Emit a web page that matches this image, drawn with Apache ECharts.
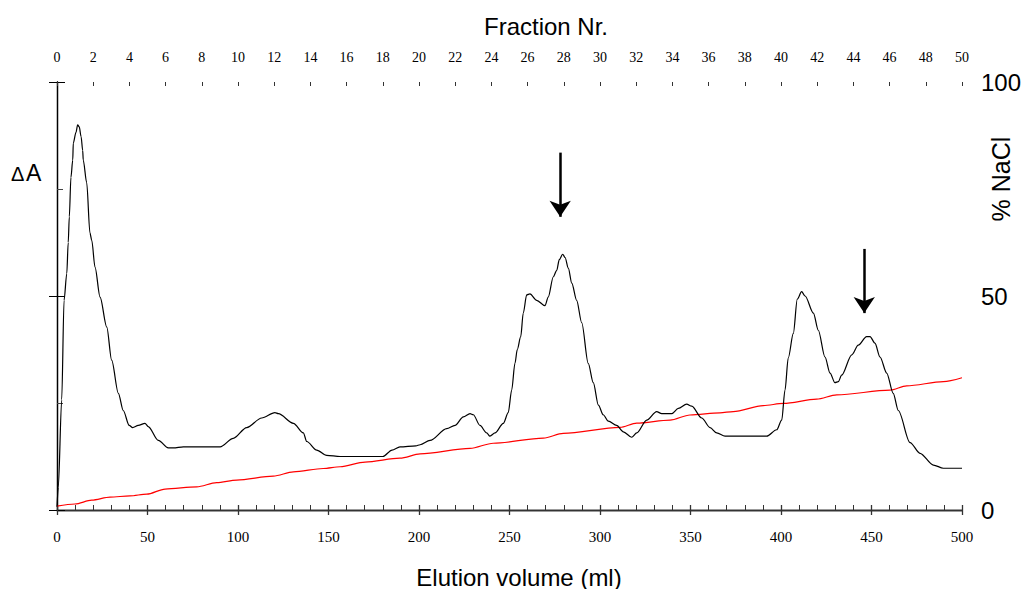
<!DOCTYPE html>
<html>
<head>
<meta charset="utf-8">
<script src="https://cdn.jsdelivr.net/npm/echarts@6/dist/echarts.min.js"></script>
<style>
  html, body { margin: 0; padding: 0; background: #fff; }
  #chart { width: 1025px; height: 589px; }
</style>
</head>
<body>
<div id="chart"></div>
<script>
// Absorbance trace (ΔA, arbitrary units) against elution volume (ml)
const absVolume = [0, 0.7, 2.6, 3.9, 5.4, 6.2, 6.8, 7.7, 8.7, 9.0, 10.5, 11.4, 12.3, 13.3, 14.2, 14.5, 16.4, 18.2, 19.2, 21.0,
  23.8, 27.5, 30.2, 33.9, 36.6, 39.9, 41.8, 44.9, 48.6, 50.4, 56.0, 61.5, 64.3, 69.8, 90.1, 97.4, 104.8, 113.1, 120.4, 122.3,
  130.6, 136.1, 138.0, 143.5, 149.0, 156.4, 180.1, 185.1, 189.5, 198.3,
  200.6, 206.1, 215.3, 219.9, 224.5, 228.2, 230.0, 233.7, 237.4, 239.2, 242.0, 246.6, 249.3, 251.2, 253.0, 254.3, 256.2,
  257.6, 259.5, 261.3, 265.0, 269.6, 271.4, 274.2, 276.1, 277.5, 279.4, 280.7, 282.5, 284.4, 287.1, 289.9, 293.5, 296.3,
  299.1, 301.8, 304.6, 309.2, 312.9, 317.5, 320.3, 325.8, 331.3, 334.1, 339.6, 343.3, 347.9, 350.7, 356.2, 360.8, 364.5,
  369.1, 392.1, 397.6, 400.4, 402.2, 404.0, 406.8, 409.0, 411.4, 413.3, 417.9, 420.6, 424.3, 427.1, 429.8, 431.7, 433.5,
  439.1, 442.7, 447.3, 449.2, 451.9, 454.7, 458.4, 462.0, 464.8, 471.3, 476.8, 484.2, 489.7, 500];
const absValue = [0.03, 0.21, 1.03, 1.96, 2.21, 2.50, 2.74, 3.11, 3.27, 3.43, 3.53, 3.60, 3.58, 3.49, 3.36, 3.27, 3.06, 2.59, 2.52, 2.27,
  1.99, 1.71, 1.40, 1.09, 0.93, 0.79, 0.77, 0.79, 0.81, 0.78, 0.65, 0.58, 0.58, 0.59, 0.59, 0.67, 0.77, 0.86, 0.91, 0.90,
  0.81, 0.72, 0.64, 0.56, 0.51, 0.50, 0.50, 0.56, 0.59, 0.60,
  0.61, 0.65, 0.76, 0.79, 0.87, 0.90, 0.89, 0.79, 0.72, 0.69, 0.72, 0.81, 0.91, 1.12, 1.37, 1.50, 1.62,
  1.84, 2.01, 2.02, 1.96, 1.91, 1.99, 2.18, 2.24, 2.34, 2.39, 2.36, 2.26, 2.12, 1.96, 1.75, 1.37, 1.19,
  0.98, 0.89, 0.83, 0.79, 0.73, 0.68, 0.72, 0.84, 0.92, 0.90, 0.90, 0.95, 0.99, 0.97, 0.86, 0.77, 0.72,
  0.69, 0.69, 0.75, 0.84, 1.12, 1.42, 1.65, 1.97, 2.04, 2.00, 1.84, 1.68, 1.43, 1.28, 1.19, 1.20, 1.26,
  1.45, 1.54, 1.62, 1.62, 1.56, 1.43, 1.28, 1.09, 0.93, 0.63, 0.53, 0.42, 0.39, 0.39];

// Salt gradient (% NaCl) against elution volume (ml)
const naclVolume = [0, 9.9, 19.2, 29.3, 40.3, 49.6, 59.7, 77.2, 88.2, 99.3, 119.5, 130.6, 147.1, 156.4, 170.2, 189.5, 200.6,
  228.2, 241, 268.7, 279.7, 311, 320.3, 338.7, 349.7, 366.3, 373.6, 390.2, 401.3, 419.7, 430.8, 460.2, 469.4, 489.7, 500];
const naclValue = [0.9, 1.4, 2.3, 3.0, 3.3, 3.7, 4.9, 5.4, 6.4, 7.0, 7.9, 8.9, 9.7, 10.1, 11.2, 12.1, 13.1,
  14.4, 15.6, 16.8, 17.9, 19.3, 20.3, 21.0, 22.2, 22.7, 23.0, 24.4, 24.9, 25.9, 26.9, 28.0, 29.0, 30.0, 30.9];

// Arrows marking the fractions of interest (volume, tail and tip in ΔA units)
const arrowVolume = [278, 446];
const arrowFrom = [3.34, 2.44];
const arrowTo = [2.74, 1.84];

// Axis ranges and tick spacing
const volumeRange = [0, 500];
const volumeStep = 50;
const fractionRange = [0, 50];
const fractionStep = 2;
const absRange = [0, 4];
const naclRange = [0, 100];
const naclStep = 50;

const SANS = '"Liberation Sans", Arial, sans-serif';
const SERIF = '"Liberation Serif", "Times New Roman", serif';
const INK = '#000';

const chart = echarts.init(document.getElementById('chart'), null, { renderer: 'svg' });

const hiddenLabel = { show: false };
const noSplit = { show: false };

chart.setOption({
  animation: false,
  backgroundColor: '#fff',
  grid: { left: 57, right: 63, top: 82, bottom: 79, containLabel: false, outerBoundsMode: 'none' },
  xAxis: [
    { // elution volume, labels and outward half of major ticks
      type: 'value', position: 'bottom', min: volumeRange[0], max: volumeRange[1], interval: volumeStep,
      axisLine: { show: true, lineStyle: { color: INK, width: 1.3 } },
      axisTick: { show: true, inside: false, length: 5, lineStyle: { color: '#333', width: 1.3 } },
      axisLabel: { show: true, margin: 19, fontFamily: SERIF, fontSize: 15, color: INK, showMinLabel: true, showMaxLabel: true },
      splitLine: noSplit
    },
    { // fraction number on top
      type: 'value', position: 'top', min: fractionRange[0], max: fractionRange[1], interval: fractionStep,
      axisLine: { show: true, lineStyle: { color: '#333', width: 1.3 } },
      axisTick: { show: true, inside: false, length: 4, lineStyle: { color: '#333', width: 1 } },
      axisLabel: { show: true, margin: 18, fontFamily: SERIF, fontSize: 14, color: INK, showMinLabel: true, showMaxLabel: true },
      splitLine: noSplit
    },
    { // inward half of bottom ticks plus 10 ml minor ticks
      type: 'value', position: 'bottom', min: volumeRange[0], max: volumeRange[1], interval: volumeStep,
      axisLine: { show: false },
      axisTick: { show: true, inside: true, length: 5, lineStyle: { color: '#333', width: 1.3 } },
      minorTick: { show: true, splitNumber: 5, length: 5, lineStyle: { color: '#333', width: 1 } },
      axisLabel: hiddenLabel, splitLine: noSplit, minorSplitLine: { show: false }
    },
    { // inward half of top ticks
      type: 'value', position: 'top', min: fractionRange[0], max: fractionRange[1], interval: fractionStep,
      axisLine: { show: false },
      axisTick: { show: true, inside: true, length: 4, lineStyle: { color: '#333', width: 1 } },
      axisLabel: hiddenLabel, splitLine: noSplit
    }
  ],
  yAxis: [
    { // ΔA, unlabelled
      type: 'value', position: 'left', min: absRange[0], max: absRange[1], interval: 1,
      axisLine: { show: true, lineStyle: { color: '#444', width: 1.3 } },
      axisTick: { show: true, inside: true, length: 6, lineStyle: { color: '#444', width: 1 } },
      axisLabel: hiddenLabel, splitLine: noSplit
    },
    { // % NaCl
      type: 'value', position: 'right', min: naclRange[0], max: naclRange[1], interval: naclStep,
      axisLine: { show: true, lineStyle: { color: INK, width: 1.3 } },
      axisTick: { show: true, inside: false, length: 8, lineStyle: { color: INK, width: 1 } },
      axisLabel: { show: true, margin: 19, fontFamily: SANS, fontSize: 24, color: INK },
      splitLine: noSplit
    },
    { // inward half of % NaCl ticks
      type: 'value', position: 'right', min: naclRange[0], max: naclRange[1], interval: naclStep,
      axisLine: { show: false },
      axisTick: { show: true, inside: true, length: 8, lineStyle: { color: INK, width: 1 } },
      axisLabel: hiddenLabel, splitLine: noSplit
    }
  ],
  series: [
    {
      name: '% NaCl', type: 'line', xAxisIndex: 0, yAxisIndex: 1,
      data: naclVolume.map((v, i) => [v, naclValue[i]]),
      showSymbol: false, smooth: 0.3, smoothMonotone: 'x',
      lineStyle: { color: '#ff0000', width: 1.2 }, z: 2, silent: true
    },
    {
      name: 'ΔA', type: 'line', xAxisIndex: 0, yAxisIndex: 0,
      data: absVolume.map((v, i) => [v, absValue[i]]),
      showSymbol: false, smooth: 0.3, smoothMonotone: 'x',
      lineStyle: { color: '#000', width: 1.2 }, z: 3, silent: true,
      markLine: {
        silent: true, animation: false,
        symbol: ['none', 'arrow'], symbolSize: 16,
        lineStyle: { color: '#000', width: 2.5, type: 'solid' },
        itemStyle: { color: '#000' },
        label: { show: false },
        emphasis: { disabled: true },
        data: arrowVolume.map((v, i) => [
          { coord: [v, arrowFrom[i]] },
          { coord: [v, arrowTo[i]] }
        ])
      }
    }
  ],
  graphic: [
    { type: 'text', x: 546, y: 26, silent: true,
      style: { text: 'Fraction Nr.', fontFamily: SANS, fontSize: 24, fill: INK, align: 'center', verticalAlign: 'middle' } },
    { type: 'text', x: 519, y: 577, silent: true,
      style: { text: 'Elution volume (ml)', fontFamily: SANS, fontSize: 24, fill: INK, align: 'center', verticalAlign: 'middle' } },
    { type: 'text', x: 1001, y: 179, rotation: Math.PI / 2, silent: true,
      style: { text: '% NaCl', fontFamily: SANS, fontSize: 25, fill: INK, align: 'center', verticalAlign: 'middle' } },
    { type: 'text', x: 11, y: 174, silent: true,
      style: { text: 'Δ', fontFamily: SANS, fontSize: 20, fill: INK, align: 'left', verticalAlign: 'middle' } },
    { type: 'text', x: 26, y: 172.5, silent: true,
      style: { text: 'A', fontFamily: SANS, fontSize: 23, fill: INK, align: 'left', verticalAlign: 'middle' } }
  ]
});
</script>
</body>
</html>
